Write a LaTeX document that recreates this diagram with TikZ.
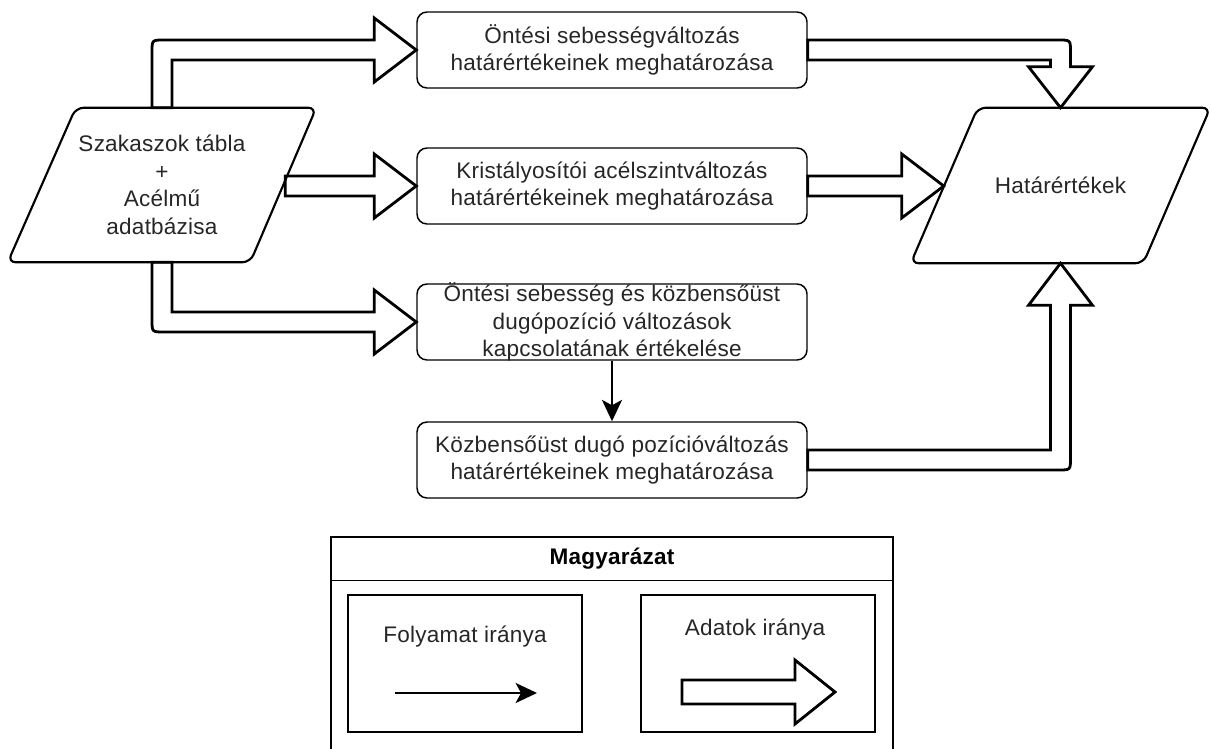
\documentclass[tikz,border=0pt]{standalone}
\usepackage{fontspec}
\setmainfont{Liberation Sans}[LetterSpace=1]
\usetikzlibrary{arrows.meta,calc}
\newcommand{\dgfont}{\fontsize{16.9pt}{20.6pt}\selectfont}
\begin{document}
\begin{tikzpicture}[x=0.75pt,y=-0.75pt,
  every node/.style={font=\dgfont, text=black!85},
  procbox/.style={draw=black, line width=1.1pt, rounded corners=7.5pt,
    minimum width=292.5pt, minimum height=57pt, align=center, inner sep=0pt},
  paraline/.style={draw=black, line width=1.6pt, rounded corners=6pt, line join=round},
  hollow/.style={draw=black, fill=white, line width=2.1pt, line join=miter},
  flow/.style={draw=black, line width=1.9pt, -{Stealth[length=16pt,width=15pt,inset=4pt]}},
  frame/.style={draw=black, line width=1.1pt, inner sep=0pt}
]
\useasboundingbox (0,0) rectangle (1211,749);

% data sources and results (parallelograms, outline drawn below)
\node[minimum width=231pt, minimum height=115.5pt, align=center, inner sep=0pt] (src) at (162,185)
  {Szakaszok tábla\\+\\Acélmű\\adatbázisa};
\node[minimum width=224.25pt, minimum height=116.25pt, inner sep=0pt] (dst) at (1060.5,185.5)
  {Határértékek};

% process steps
\node[procbox] (b1) at (612,50) {Öntési sebességváltozás\\határértékeinek meghatározása};
\node[procbox] (b2) at (612,186) {Kristályosítói acélszintváltozás\\határértékeinek meghatározása};
\node[procbox, inner ysep=-1.6pt] (b3) at (612,322) {Öntési sebesség és közbensőüst\\dugópozíció változások\\kapcsolatának értékelése};
\node[procbox] (b4) at (612,460) {Közbensőüst dugó pozícióváltozás\\határértékeinek meghatározása};

% process flow
\draw[flow] (b3) -- (b4);

% data flow: source -> step 1
\draw[hollow] ($(src.north)+(-10,0)$) -- ($(src.north |- b1.west)+(-10,2)$)
  .. controls ($(src.north |- b1.west)+(-10,-10)$) .. ($(src.north |- b1.west)+(2,-10)$)
  -- ($(b1.west)+(-42,-10)$) -- ($(b1.west)+(-42,-32)$) -- (b1.west)
  -- ($(b1.west)+(-42,32)$) -- ($(b1.west)+(-42,10)$)
  -- ($(src.north |- b1.west)+(10,10)$) -- ($(src.north)+(10,0)$) -- cycle;

% data flow: source -> step 2
\draw[hollow] ($(src.east |- b2.west)+(-31,-10)$) -- ($(b2.west)+(-42,-10)$)
  -- ($(b2.west)+(-42,-32)$) -- (b2.west) -- ($(b2.west)+(-42,32)$)
  -- ($(b2.west)+(-42,10)$) -- ($(src.east |- b2.west)+(-31,10)$) -- cycle;

% data flow: source -> step 3
\draw[hollow] ($(src.south)+(-10,0)$) -- ($(src.south |- b3.west)+(-10,-2)$)
  .. controls ($(src.south |- b3.west)+(-10,10)$) .. ($(src.south |- b3.west)+(2,10)$)
  -- ($(b3.west)+(-42,10)$) -- ($(b3.west)+(-42,32)$) -- (b3.west)
  -- ($(b3.west)+(-42,-32)$) -- ($(b3.west)+(-42,-10)$)
  -- ($(src.south |- b3.west)+(10,-10)$) -- ($(src.south)+(10,0)$) -- cycle;

% data flow: step 1 -> results
\draw[hollow] ($(b1.east)+(0,-10)$) -- ($(dst.north |- b1.east)+(-2,-10)$)
  .. controls ($(dst.north |- b1.east)+(10,-10)$) .. ($(dst.north |- b1.east)+(10,2)$)
  -- ($(dst.north)+(10,-41)$) -- ($(dst.north)+(32,-41)$) -- (dst.north)
  -- ($(dst.north)+(-32,-41)$) -- ($(dst.north)+(-10,-41)$)
  -- ($(dst.north |- b1.east)+(-10,10)$) -- ($(b1.east)+(0,10)$) -- cycle;

% data flow: step 2 -> results
\coordinate (eT) at ($(b2.east -| dst.west)+(33,0)$);
\draw[hollow] ($(b2.east)+(0,-10)$) -- ($(eT)+(-42,-10)$) -- ($(eT)+(-42,-32)$) -- (eT)
  -- ($(eT)+(-42,32)$) -- ($(eT)+(-42,10)$) -- ($(b2.east)+(0,10)$) -- cycle;

% data flow: step 4 -> results
\draw[hollow] ($(b4.east)+(0,-10)$) -- ($(dst.south |- b4.east)+(-10,-10)$)
  -- ($(dst.south)+(-10,42)$) -- ($(dst.south)+(-32,42)$) -- (dst.south)
  -- ($(dst.south)+(32,42)$) -- ($(dst.south)+(10,42)$)
  -- ($(dst.south |- b4.east)+(10,-2)$)
  .. controls ($(dst.south |- b4.east)+(10,10)$) .. ($(dst.south |- b4.east)+(-2,10)$)
  -- ($(b4.east)+(0,10)$) -- cycle;

% parallelogram outlines
\draw[paraline] ($(src.north west)+(68,0)$) -- (src.north east)
  -- ($(src.south east)+(-66,0)$) -- (src.south west) -- cycle;
\draw[paraline] ($(dst.north west)+(67,0)$) -- (dst.north east)
  -- ($(dst.south east)+(-67,0)$) -- (dst.south west) -- cycle;

% legend
\node[frame, minimum width=421.5pt, minimum height=167.25pt] (leg) at (612,648.5) {};
\draw[line width=1.1pt] ($(leg.north west)+(0,44)$) -- ($(leg.north east)+(0,44)$);
\node[font=\dgfont\bfseries, text=black] (legt) at (612,559) {Magyarázat};

\node[frame, minimum width=175.5pt, minimum height=102.75pt] (lp) at (465,663.5) {};
\node (lpt) at (465,637) {Folyamat iránya};
\coordinate (lpa) at (395,693);
\coordinate (lpb) at (537,693);
\draw[flow] (lpa) -- (lpb);

\node[frame, minimum width=175.5pt, minimum height=102.75pt] (ld) at (758,663.5) {};
\node (ldt) at (755,630) {Adatok iránya};
\draw[hollow] (682,680) -- (795,680) -- (795,660) -- (835,692) -- (795,724)
  -- (795,704) -- (682,704) -- cycle;
\end{tikzpicture}
\end{document}
